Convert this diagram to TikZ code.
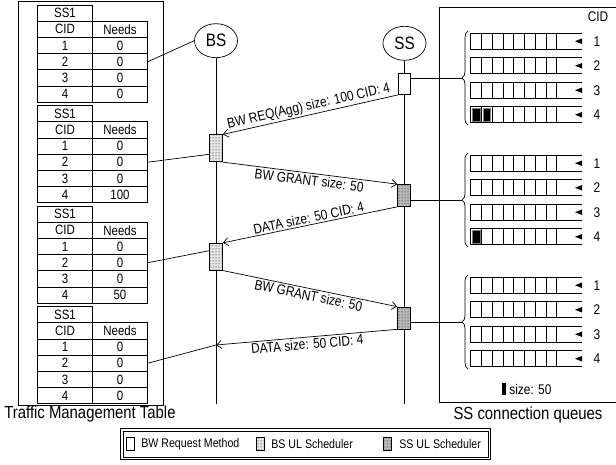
\documentclass[tikz,border=0pt]{standalone}
\usepackage{fontspec}
\setmainfont{Liberation Sans}[FakeStretch=0.85]
\usetikzlibrary{shapes.geometric,arrows.meta,decorations.pathreplacing,patterns}

\begin{document}
\begin{tikzpicture}[
    x=1pt, y=-1pt,
    line width=0.7pt,
    cell/.style={rectangle, draw, minimum width=55pt, minimum height=16.2pt, inner sep=0pt, font=\fontsize{13.5}{13.5}\selectfont},
    station/.style={ellipse, draw, minimum width=43pt, minimum height=34pt, inner sep=0pt, font=\fontsize{18}{18}\selectfont},
    reqbox/.style={rectangle, draw, fill=white, minimum width=12pt, minimum height=21pt, inner sep=0pt},
    bsbox/.style={rectangle, draw, preaction={fill=gray!20}, pattern=dots, minimum width=13pt, minimum height=27pt, inner sep=0pt},
    ssbox/.style={rectangle, draw, preaction={fill=gray!55}, pattern=dots, minimum width=13pt, minimum height=22pt, inner sep=0pt},
    msg/.style={-{Straight Barb[length=5pt,width=8pt]}},
    msglabel/.style={sloped, inner sep=1.5pt, font=\fontsize{14}{14}\selectfont},
    bigtext/.style={font=\fontsize{17.5}{18}\selectfont},
    qnum/.style={font=\fontsize{14}{14}\selectfont},
    legtext/.style={anchor=west, inner sep=0pt, font=\fontsize{12.5}{13}\selectfont},
    legbox/.style={rectangle, minimum width=369pt, minimum height=30pt, inner sep=0pt}
]
    \useasboundingbox (0,0) rectangle (616,465);

    % traffic management tables
    \draw (18,1) rectangle (163,405);
    \foreach \needs [count=\k from 0] in {0,100,50,0} {
        \pgfmathsetmacro\ty{5+100.5*\k}
        \node[cell] (tab\k-ss) at (65,\ty+8.1) {SS1};
        \node[cell] (tab\k-cid) at (65,\ty+24.3) {CID};
        \node[cell] (tab\k-needs) at (120,\ty+24.3) {Needs};
        \foreach \r/\v in {1/0,2/0,3/0,4/\needs} {
            \node[cell] (tab\k-c\r) at (65,\ty+24.3+16.2*\r) {\r};
            \node[cell] (tab\k-n\r) at (120,\ty+24.3+16.2*\r) {\v};
        }
    }
    \node[bigtext] (tmtlabel) at (90,414) {Traffic Management Table};

    % stations and lifelines
    \node[station] (bs) at (216,40.7) {BS};
    \node[station] (ss) at (404.5,43.3) {SS};
    \coordinate (bsend) at (216,404);
    \coordinate (ssend) at (404.5,404);
    \coordinate (dataend) at (216,345);
    \draw (bs) -- (bsend);
    \draw (ss) -- (ssend);

    \node[reqbox] (ssReq) at (404.5,84) {};
    \node[bsbox] (bsA) at (216,148.3) {};
    \node[ssbox] (ssA) at (404,195.5) {};
    \node[bsbox] (bsB) at (216,256.7) {};
    \node[ssbox] (ssB) at (404,318) {};

    % messages
    \draw[msg] (ssReq.south west) -- node[msglabel, above] {BW REQ(Agg) size: 100 CID: 4} (bsA.north east);
    \draw[msg] (bsA.south east) -- node[msglabel, below] {BW GRANT size: 50} (ssA.north west);
    \draw[msg] (ssA.south west) -- node[msglabel, above] {DATA size: 50 CID: 4} (bsB.north east);
    \draw[msg] (bsB.south east) -- node[msglabel, below] {BW GRANT size: 50} (ssB.north west);
    \draw[msg] (ssB.south west) -- node[msglabel, below] {DATA size: 50 CID: 4} (dataend);

    % tables to BS
    \draw (tab0-n2.east) -- (bs.west);
    \draw (tab1-n2.east) -- ([yshift=-6pt]bsA.west);
    \draw (tab2-n2.east) -- ([yshift=6pt]bsB.west);
    \draw (tab3-n2.east) -- (dataend);

    % SS connection queues
    \draw (618,7) -- (439.5,7) -- (439.5,402.7) -- (618,402.7);
    \node[qnum] (cidlabel) at (598,16.5) {CID};
    \foreach \g in {0,1,2} {
        \pgfmathsetmacro\cy{78+122*\g}
        \coordinate (tip\g) at (462,\cy);
        \draw[decorate, decoration={brace, amplitude=6pt}] (468,\cy+47) -- (468,\cy-47);
        \foreach \r in {1,...,4} {
            \pgfmathsetmacro\ry{\cy+(\r-2.5)*24.5}
            \draw (582,\ry-8) -- (470.7,\ry-8) -- (470.7,\ry+8) -- (582,\ry+8);
            \foreach \c in {1,...,8}
                \draw (470.7+10.75*\c,\ry-8) -- ++(0,16);
            \fill (575,\ry) -- (582,\ry-2.8) -- (582,\ry+2.8) -- cycle;
            \node[qnum] (num\g-\r) at (597,\ry) {\r};
        }
    }
    \fill[draw=gray] (472.3,108.5) rectangle (480,121);
    \fill[draw=gray] (483,108.5) rectangle (490.7,121);
    \fill[draw=gray] (472.3,230.5) rectangle (480,243);
    \fill (501.7,383) rectangle (506,395);
    \node[legtext, font=\fontsize{14}{14}\selectfont] (sizelabel) at (509,389) {size: 50};
    \node[bigtext] (queuelabel) at (528,415) {SS connection queues};

    \draw ([yshift=6pt]ssReq.east) -- (tip0);
    \draw ([yshift=-4.5pt]ssA.east) -- (tip1);
    \draw ([yshift=-4pt]ssB.east) -- (tip2);

    % legend
    \node[legbox] (legend) at (305.5,444) {};
    \draw[line width=1.3pt] (legend.north west) rectangle (legend.south east);
    \draw ([xshift=2.5pt,yshift=-2.5pt]legend.north west) rectangle ([xshift=-2.5pt,yshift=2.5pt]legend.south east);
    \node[reqbox, minimum width=8pt, minimum height=13pt] (legreq) at (130,444) {};
    \node[legtext] (legreqtext) at (141,444) {BW Request Method};
    \node[bsbox, minimum width=8pt, minimum height=13pt] (legbs) at (260,444) {};
    \node[legtext] (legbstext) at (271,444) {BS UL Scheduler};
    \node[ssbox, minimum width=8pt, minimum height=13pt] (legss) at (387,444) {};
    \node[legtext] (legsstext) at (399,444) {SS UL Scheduler};
\end{tikzpicture}
\end{document}
